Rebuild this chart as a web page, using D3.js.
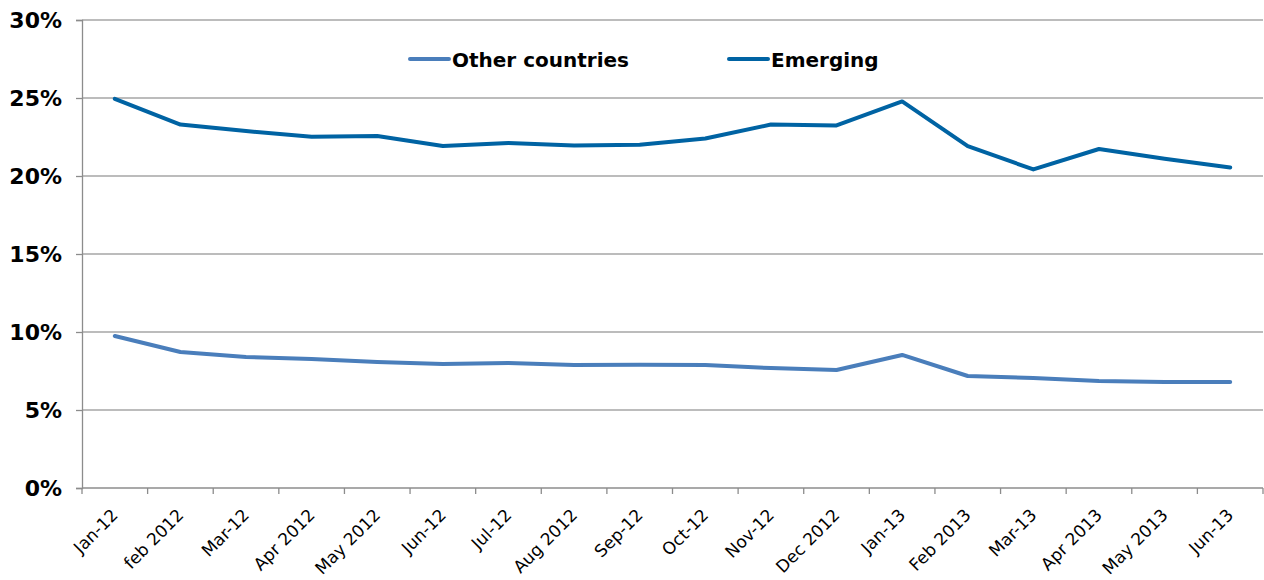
<!DOCTYPE html>
<html><head><meta charset="utf-8">
<script src="https://cdn.jsdelivr.net/npm/d3@7/dist/d3.min.js"></script>
<style>body{margin:0;background:#fff}svg{display:block}</style>
</head><body><svg id="c" width="1264" height="580"></svg>
<script>
const categories = ["Jan-12","feb 2012","Mar-12","Apr 2012","May 2012","Jun-12","Jul-12","Aug 2012","Sep-12","Oct-12","Nov-12","Dec 2012","Jan-13","Feb 2013","Mar-13","Apr 2013","May 2013","Jun-13"];
const otherCountries = [9.74,8.72,8.40,8.27,8.08,7.95,8.01,7.88,7.90,7.88,7.69,7.56,8.53,7.18,7.05,6.86,6.79,6.79];
const emerging = [24.95,23.30,22.88,22.52,22.56,21.92,22.12,21.95,22.01,22.40,23.30,23.24,24.78,21.92,20.42,21.73,21.10,20.55];
const yTicks = [0,5,10,15,20,25,30];
const seriesNames = ["Other countries","Emerging"];
const colors = ["#4a7ebb","#0063a3"];

const svg = d3.select("#c");
const L=82,R=1263,T=20,B=488;
const x = d3.scaleBand().domain(categories).range([L,R]);
const y = d3.scaleLinear().domain([0,30]).range([B,T]);
const font = "'DejaVu Sans', Verdana, sans-serif";

// gridlines
svg.append("g").selectAll("line").data(yTicks.filter(d=>d>0)).join("line")
  .attr("x1",L).attr("x2",R).attr("y1",d=>y(d)).attr("y2",d=>y(d))
  .attr("stroke","#a6a6a6").attr("stroke-width",1.3);

// y axis
const ya = svg.append("g").attr("transform",`translate(${L},0)`)
  .call(d3.axisLeft(y).tickValues(yTicks).tickFormat(d=>d+"%").tickSize(6).tickPadding(14));
ya.select(".domain").attr("stroke","#8c8c8c").attr("stroke-width",1.3);
ya.selectAll(".tick line").attr("stroke","#8c8c8c").attr("stroke-width",1.3);
ya.selectAll("text").attr("font-family",font).attr("font-weight","bold").attr("font-size",22).attr("fill","#000");

// x axis
const xa = svg.append("g").attr("transform",`translate(0,${B})`);
xa.append("line").attr("x1",L).attr("x2",R).attr("stroke","#8c8c8c").attr("stroke-width",1.3);
const bounds = categories.map(c=>x(c)).concat([R]);
xa.selectAll("line.t").data(bounds).join("line").attr("class","t")
  .attr("x1",d=>d).attr("x2",d=>d).attr("y1",0).attr("y2",6)
  .attr("stroke","#8c8c8c").attr("stroke-width",1.3);
xa.selectAll("text").data(categories).join("text")
  .attr("transform",d=>`translate(${x(d)+x.bandwidth()/2},${24}) rotate(-45)`)
  .attr("text-anchor","end").attr("dy","0.35em")
  .attr("font-family",font).attr("font-size",17).attr("fill","#000").text(d=>d);

// lines
const line = d3.line().x((d,i)=>x(categories[i])+x.bandwidth()/2).y(d=>y(d));
[otherCountries,emerging].forEach((s,i)=>{
  svg.append("path").datum(s).attr("d",line).attr("fill","none")
    .attr("stroke",colors[i]).attr("stroke-width",4).attr("stroke-linejoin","round").attr("stroke-linecap","round");
});

// legend
const lg = [{x:410},{x:729}];
seriesNames.forEach((n,i)=>{
  svg.append("line").attr("x1",lg[i].x).attr("x2",lg[i].x+39).attr("y1",59).attr("y2",59)
    .attr("stroke",colors[i]).attr("stroke-width",4).attr("stroke-linecap","round");
  svg.append("text").attr("x",lg[i].x+42).attr("y",60).attr("dy","0.35em")
    .attr("font-family",font).attr("font-weight","bold").attr("font-size",20).attr("fill","#000").text(n);
});
</script></body></html>
